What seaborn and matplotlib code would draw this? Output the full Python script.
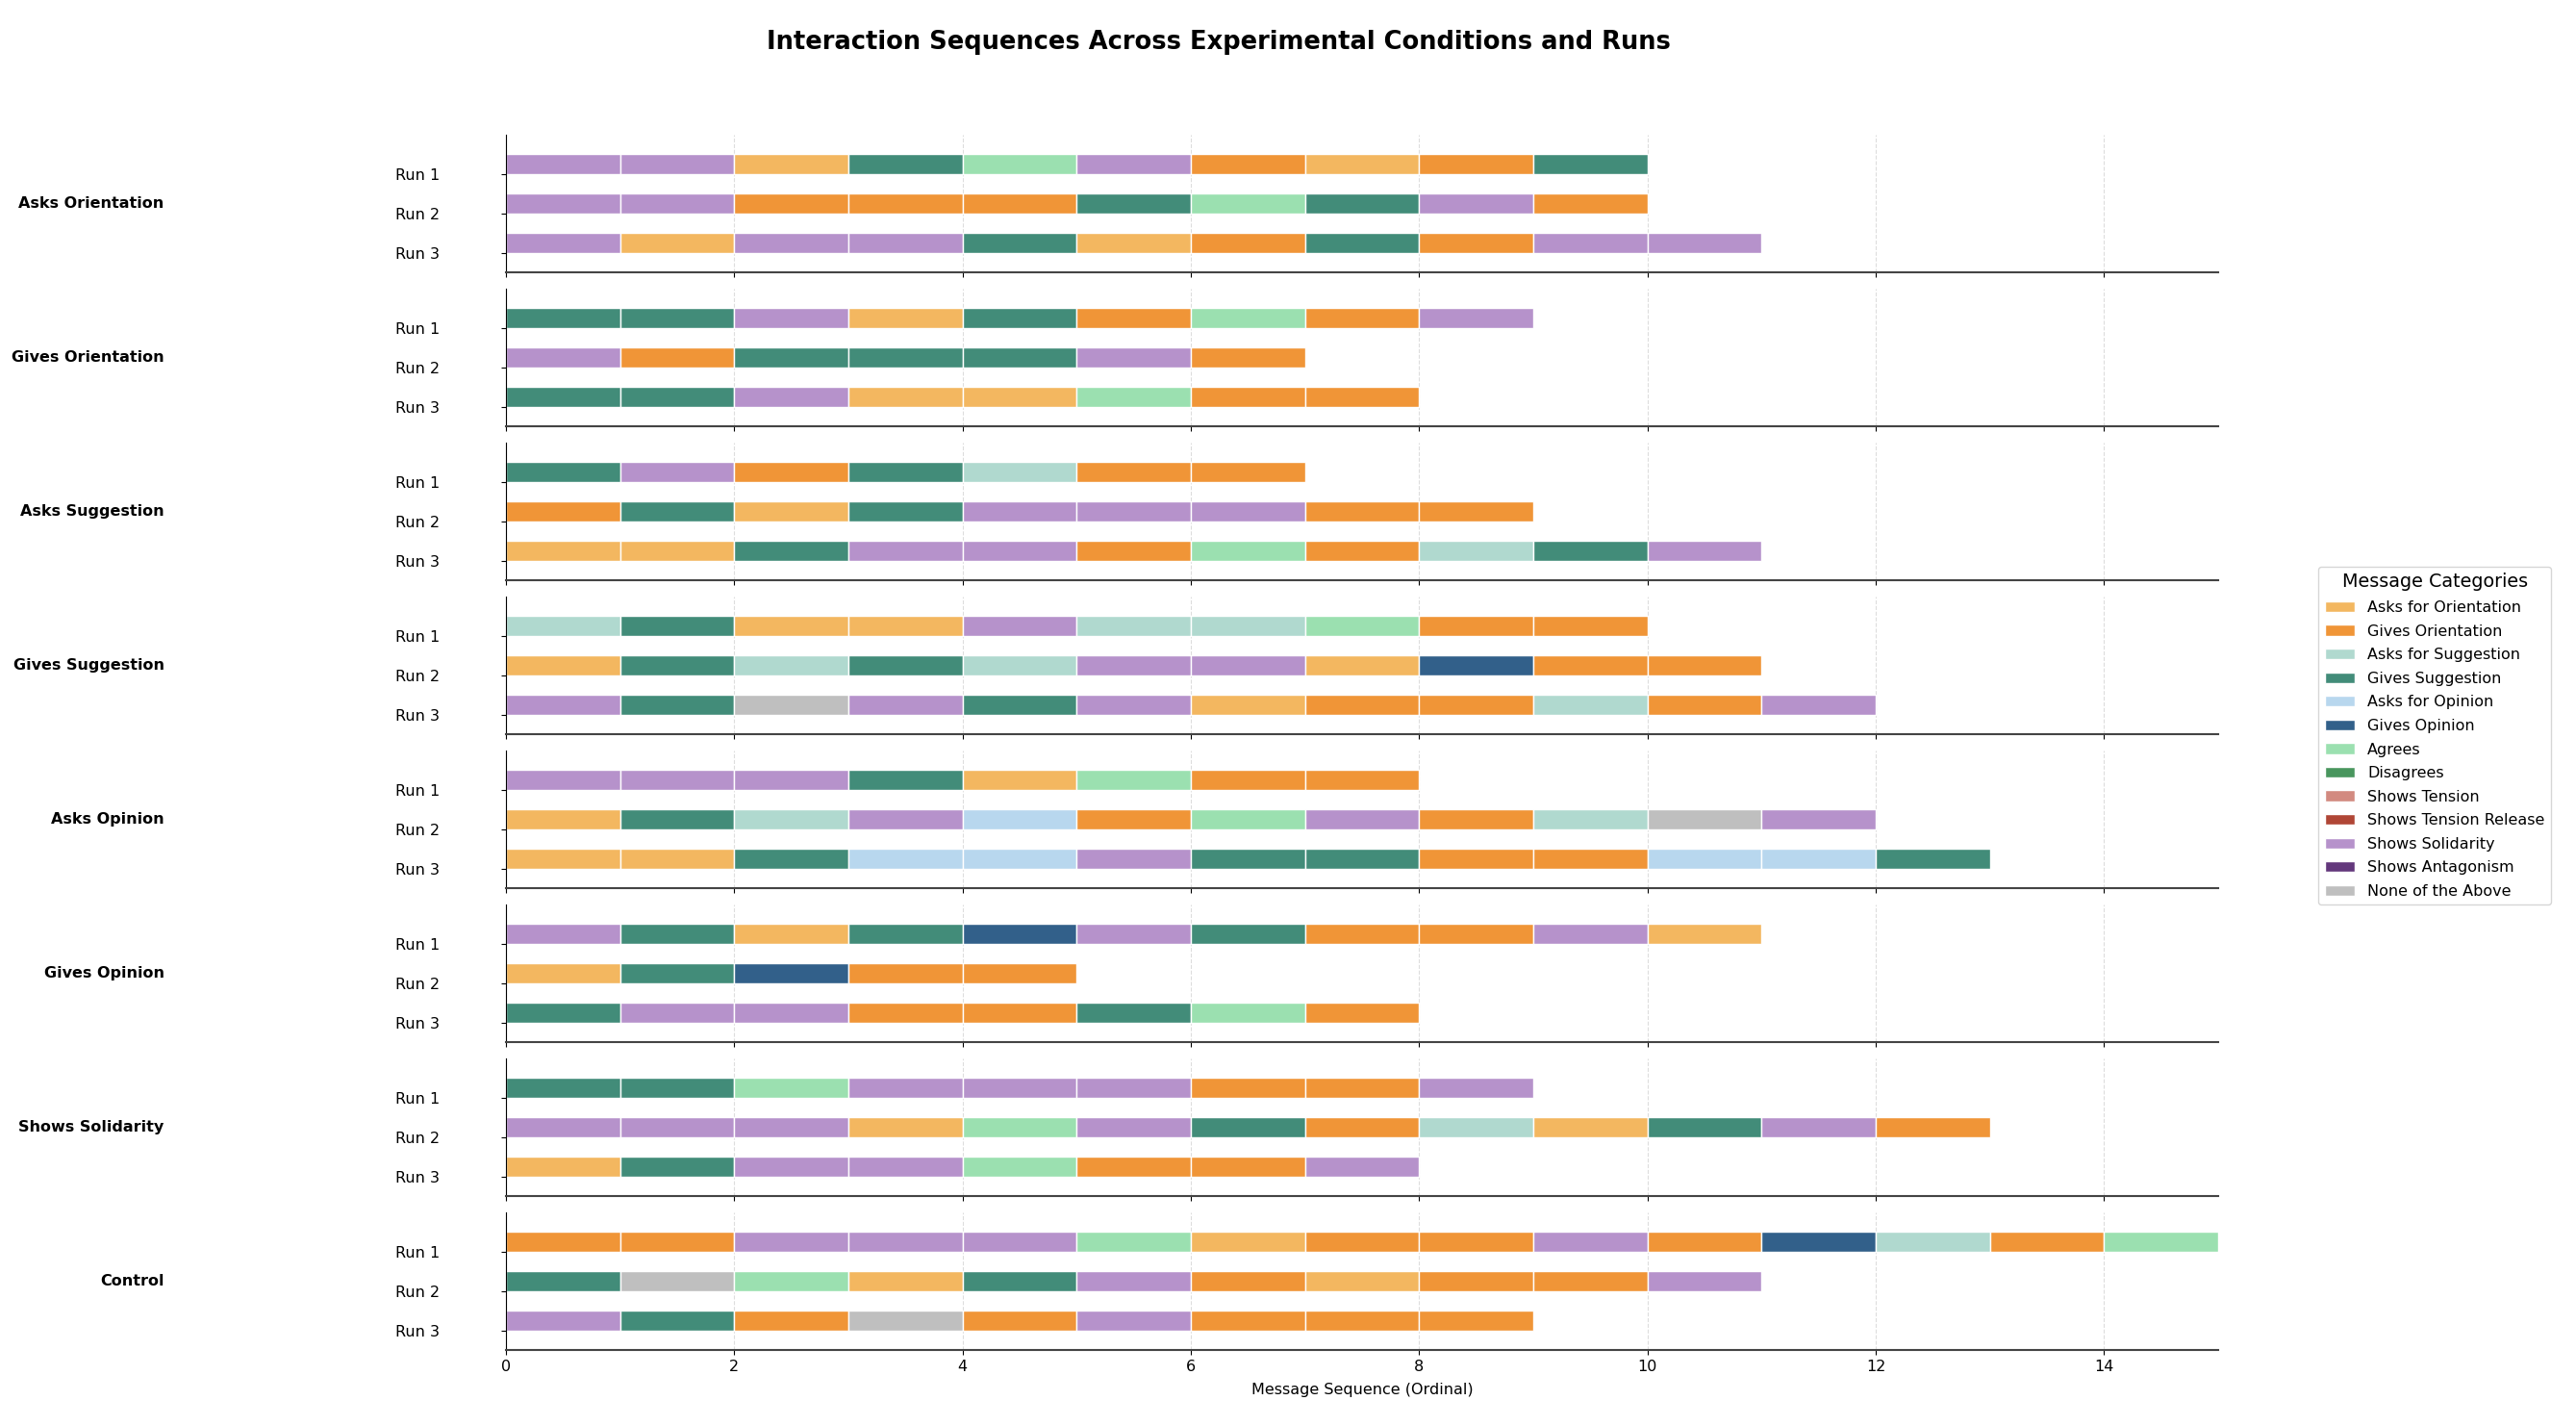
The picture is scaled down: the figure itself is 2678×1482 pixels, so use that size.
import numpy as np
import seaborn as sns
import matplotlib.pyplot as plt
from matplotlib.patches import Patch

# message categories (legend order) and their colours
categories = ["Asks for Orientation", "Gives Orientation", "Asks for Suggestion",
              "Gives Suggestion", "Asks for Opinion", "Gives Opinion", "Agrees",
              "Disagrees", "Shows Tension", "Shows Tension Release",
              "Shows Solidarity", "Shows Antagonism", "None of the Above"]
codes = ["AO", "GO", "AS", "GS", "AP", "GP", "AG", "DG", "ST", "SR", "SS", "SA", "NA"]
colors = ["#F3B760", "#F09537", "#B0D9CF", "#428C79", "#B8D7EE", "#32608A", "#9BE0B0",
          "#49965E", "#D28A80", "#B04636", "#B692CB", "#63387C", "#BFBFBF"]

conditions = ["Asks Orientation", "Gives Orientation", "Asks Suggestion",
              "Gives Suggestion", "Asks Opinion", "Gives Opinion",
              "Shows Solidarity", "Control"]
runs = ["Run 1", "Run 2", "Run 3"]

asks_orientation = [
    ["SS", "SS", "AO", "GS", "AG", "SS", "GO", "AO", "GO", "GS"],
    ["SS", "SS", "GO", "GO", "GO", "GS", "AG", "GS", "SS", "GO"],
    ["SS", "AO", "SS", "SS", "GS", "AO", "GO", "GS", "GO", "SS", "SS"]]
gives_orientation = [
    ["GS", "GS", "SS", "AO", "GS", "GO", "AG", "GO", "SS"],
    ["SS", "GO", "GS", "GS", "GS", "SS", "GO"],
    ["GS", "GS", "SS", "AO", "AO", "AG", "GO", "GO"]]
asks_suggestion = [
    ["GS", "SS", "GO", "GS", "AS", "GO", "GO"],
    ["GO", "GS", "AO", "GS", "SS", "SS", "SS", "GO", "GO"],
    ["AO", "AO", "GS", "SS", "SS", "GO", "AG", "GO", "AS", "GS", "SS"]]
gives_suggestion = [
    ["AS", "GS", "AO", "AO", "SS", "AS", "AS", "AG", "GO", "GO"],
    ["AO", "GS", "AS", "GS", "AS", "SS", "SS", "AO", "GP", "GO", "GO"],
    ["SS", "GS", "NA", "SS", "GS", "SS", "AO", "GO", "GO", "AS", "GO", "SS"]]
asks_opinion = [
    ["SS", "SS", "SS", "GS", "AO", "AG", "GO", "GO"],
    ["AO", "GS", "AS", "SS", "AP", "GO", "AG", "SS", "GO", "AS", "NA", "SS"],
    ["AO", "AO", "GS", "AP", "AP", "SS", "GS", "GS", "GO", "GO", "AP", "AP", "GS"]]
gives_opinion = [
    ["SS", "GS", "AO", "GS", "GP", "SS", "GS", "GO", "GO", "SS", "AO"],
    ["AO", "GS", "GP", "GO", "GO"],
    ["GS", "SS", "SS", "GO", "GO", "GS", "AG", "GO"]]
shows_solidarity = [
    ["GS", "GS", "AG", "SS", "SS", "SS", "GO", "GO", "SS"],
    ["SS", "SS", "SS", "AO", "AG", "SS", "GS", "GO", "AS", "AO", "GS", "SS", "GO"],
    ["AO", "GS", "SS", "SS", "AG", "GO", "GO", "SS"]]
control = [
    ["GO", "GO", "SS", "SS", "SS", "AG", "AO", "GO", "GO", "SS", "GO", "GP", "AS", "GO", "AG"],
    ["GS", "NA", "AG", "AO", "GS", "SS", "GO", "AO", "GO", "GO", "SS"],
    ["SS", "GS", "GO", "NA", "GO", "SS", "GO", "GO", "GO"]]

sequences = [asks_orientation, gives_orientation, asks_suggestion, gives_suggestion,
             asks_opinion, gives_opinion, shows_solidarity, control]

color_of = dict(zip(codes, colors))

sns.set_style("white")
plt.rcParams['font.family'] = ['DejaVu Sans']
plt.rcParams['text.color'] = 'black'
plt.rcParams['xtick.color'] = 'black'
plt.rcParams['ytick.color'] = 'black'
plt.rcParams['axes.labelcolor'] = 'black'

fs = 11.5

fig = plt.figure(figsize=(26.78, 14.82), dpi=100)
W, H = 2678.0, 1482.0
left, width = 526 / W, (2306 - 526) / W
axes = []
for k, (cond, seq) in enumerate(zip(conditions, sequences)):
    top_px = 140 + 160 * k
    ax = fig.add_axes([left, 1 - (top_px + 143) / H, width, 143 / H])
    axes.append(ax)
    ax.set_axisbelow(True)
    ax.grid(axis='x', linestyle='--', color='#dddddd', linewidth=0.8)
    ax.grid(axis='y', visible=False)
    for i, run_seq in enumerate(seq):
        for j, c in enumerate(run_seq):
            ax.barh(i - 0.25, 1, left=j, height=0.5, color=color_of[c],
                    edgecolor='white', linewidth=1.0)
    ax.set_xlim(0, 15)
    ax.set_ylim(2.5, -1)
    ax.set_yticks(range(len(runs)))
    ax.set_yticklabels(runs, fontsize=fs)
    ax.set_xticks(np.arange(0, 15, 2))
    ax.tick_params(axis='y', left=True, length=3.5, width=0.8, pad=46)
    ax.tick_params(axis='x', bottom=True, length=3.5, width=0.8, labelsize=fs)
    sns.despine(ax=ax)
    ax.spines['left'].set_color('black')
    ax.spines['left'].set_linewidth(0.8)
    ax.spines['bottom'].set_color('#444444')
    ax.spines['bottom'].set_linewidth(1.5)
    ax.text(-0.1997, 0.5, cond, transform=ax.transAxes, ha='right', va='center',
            fontsize=fs, fontweight='bold')
    if k < len(conditions) - 1:
        ax.set_xticklabels([])

axes[-1].set_xlabel("Message Sequence (Ordinal)", fontsize=fs, labelpad=7)

handles = [Patch(facecolor=col, edgecolor='white', label=cat)
           for cat, col in zip(categories, colors)]
fig.legend(handles=handles, title="Message Categories", loc='center left',
           bbox_to_anchor=(0.897, 0.484), fontsize=fs, title_fontsize=13.8,
           labelspacing=0.6, frameon=True)

fig.text(0.473, 0.970, "Interaction Sequences Across Experimental Conditions and Runs",
         ha='center', va='center', fontsize=18.5, fontweight='bold')

fig.savefig("out.png", dpi=100)
